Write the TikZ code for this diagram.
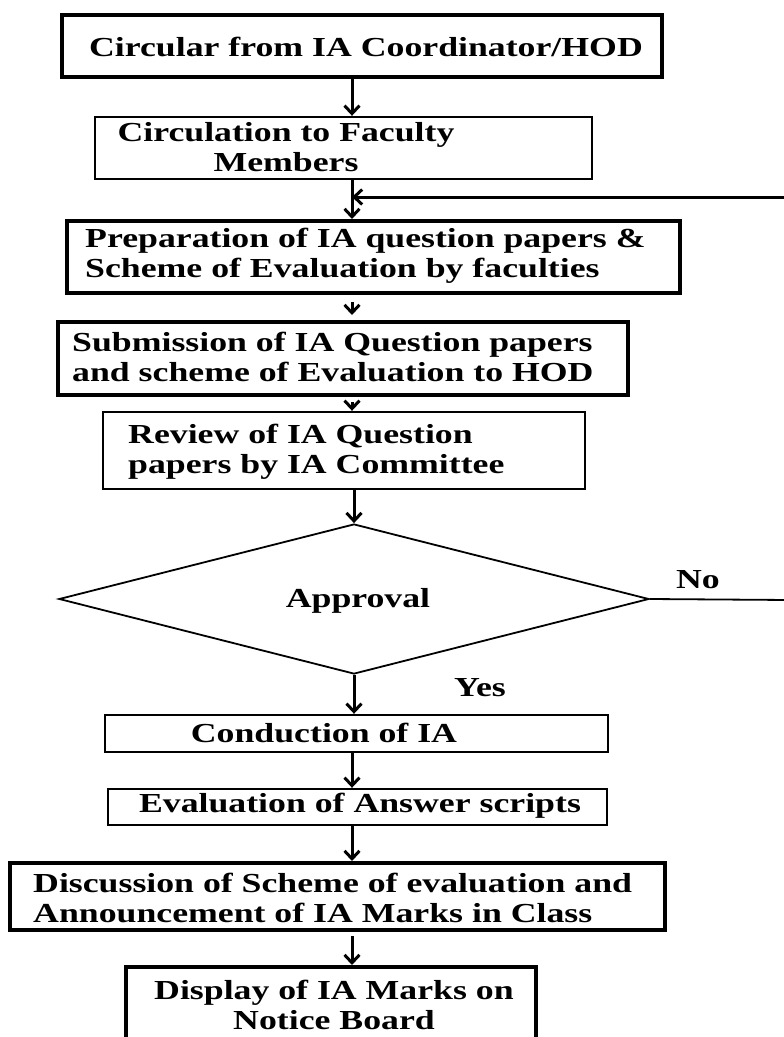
\documentclass[tikz,border=0pt]{standalone}
\usepackage{fontspec}
\setmainfont{Liberation Serif}[FakeStretch=1.3]
\usetikzlibrary{arrows.meta,shapes.geometric}
\begin{document}
\begin{tikzpicture}[x=1pt,y=-1pt,
  thickbox/.style={draw,line width=4pt,rectangle,inner sep=0pt},
  thinbox/.style={draw,line width=2.4pt,rectangle,inner sep=0pt},
  txt/.style={inner sep=0pt,font=\fontsize{27.5}{30}\selectfont\bfseries},
  arr/.style={line width=3pt,-{Straight Barb[length=8pt,width=15pt,line width=3pt]}},
  decision/.style={draw,line width=1.8pt,diamond,inner sep=0pt,aspect=1}]
\useasboundingbox (0,0) rectangle (784,1037);
\clip (0,0) rectangle (784,1037);
\fill[white] (0,0) rectangle (784,1037);
\coordinate (axis) at (352,0);

% boxes
\node[thickbox,minimum width=600pt,minimum height=62pt] (b1) at (362,46) {};
\node[thinbox,minimum width=497pt,minimum height=62pt] (b2) at (343.5,148) {};
\node[thickbox,minimum width=613pt,minimum height=72pt] (b3) at (373.5,257) {};
\node[thickbox,minimum width=570pt,minimum height=73pt] (b4) at (343,358.5) {};
\node[thinbox,minimum width=482pt,minimum height=77pt] (b5) at (344,450.5) {};
\node[decision,minimum width=590pt,minimum height=150pt] (d) at (354,599) {};
\node[thinbox,minimum width=503pt,minimum height=37pt] (b6) at (356.5,733.5) {};
\node[thinbox,minimum width=499pt,minimum height=36pt] (b7) at (357.5,807) {};
\node[thickbox,minimum width=655pt,minimum height=67pt] (b8) at (337.5,896.5) {};
\node[thickbox,minimum width=410pt,minimum height=92pt] (b9) at (331,1013) {};

% texts
\node[txt] (t1) at (366,47) {Circular from IA Coordinator/HOD};
\node[txt,align=center] (t2) at (286,147) {Circulation to Faculty\\Members};
\node[txt,align=left,anchor=west] (t3) at (85,256) {Preparation of IA question papers \&\\Scheme of Evaluation by faculties};
\node[txt,align=left,anchor=west] (t4) at (72,357) {Submission of IA Question papers\\and scheme of Evaluation to HOD};
\node[txt,align=left,anchor=west] (t5) at (128,452) {Review of IA Question\\papers by IA Committee};
\node[txt] (ta) at (358,601) {Approval};
\node[txt] (tno) at (698,580) {No};
\node[txt] (tyes) at (480,688) {Yes};
\node[txt] (t6) at (324,733) {Conduction of IA};
\node[txt] (t7) at (360,806) {Evaluation of Answer scripts};
\node[txt,align=left,anchor=west] (t8) at (33,898) {Discussion of Scheme of evaluation and\\Announcement of IA Marks in Class};
\node[txt,align=center] (t9) at (334,1005) {Display of IA Marks on\\Notice Board};

% connectors
\coordinate (j) at (352,197);
\coordinate (fb1) at (790,600);
\coordinate (fb2) at (790,197);
\draw[arr] (b1.south -| axis) -- (b2.north -| axis);
\draw[arr] (b2.south -| axis) -- (b3.north -| axis);
\draw[arr,shorten <=7pt,shorten >=5pt] (b3.south -| axis) -- (b4.north -| axis);
\draw[arr,shorten <=5pt] (b4.south -| axis) -- (b5.north -| axis);
\draw[arr] (b5.south -| d.north) -- (d.north);
\draw[line width=1.8pt] (d.east) -- (fb1);
\draw[arr] (fb1) -- (fb2) -- (j);
\draw[arr] (d.south) -- (b6.north -| d.south);
\draw[arr] (b6.south -| axis) -- (b7.north -| axis);
\draw[arr] (b7.south -| axis) -- (b8.north -| axis);
\draw[arr,shorten <=4pt] (b8.south -| axis) -- (b9.north -| axis);
\end{tikzpicture}
\end{document}
